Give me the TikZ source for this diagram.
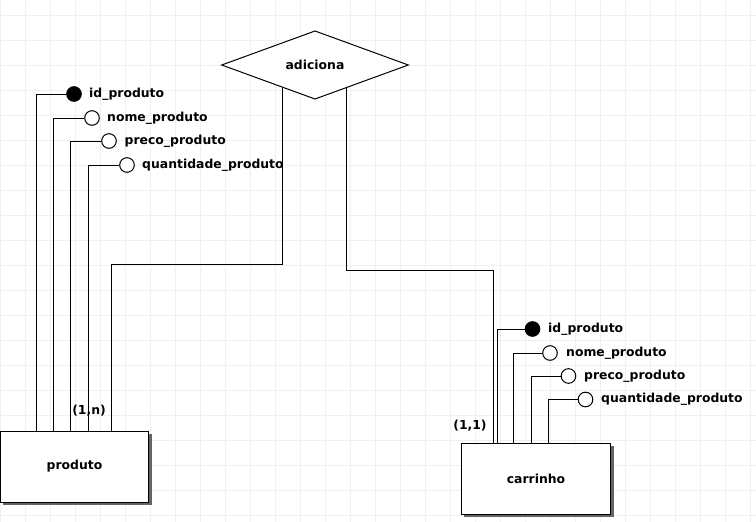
\documentclass[tikz,border=0pt]{standalone}
\usepackage{fontspec}
\setmainfont{DejaVu Sans}
\usetikzlibrary{shapes.geometric,calc}
\definecolor{gridc}{RGB}{234,242,246}
\definecolor{shadowc}{RGB}{100,100,100}
\pgfdeclarelayer{bg}
\pgfsetlayers{bg,main}
\begin{document}
\begin{tikzpicture}[x=1pt,y=-1pt,
  every node/.style={font=\fontsize{12.4}{14}\selectfont\bfseries},
  line/.style={draw=black,line width=1pt},
  entity/.style={draw=black,line width=1pt,fill=white,rectangle,inner sep=0pt},
  rel/.style={draw=black,line width=1pt,fill=white,diamond,inner sep=0pt,
    minimum width=187pt,minimum height=63pt},
  attr/.style={circle,draw=black,line width=1pt,fill=white,minimum size=14.6pt,inner sep=0pt},
  keyattr/.style={attr,fill=black},
  attrtext/.style={anchor=west,inner sep=0pt},
  card/.style={inner sep=0pt}]
\useasboundingbox (0,0) rectangle (756,522);

% relationship
\node[rel] (adiciona) at (315,65) {adiciona};

% entities
\node[entity,minimum width=148pt,minimum height=71pt] (produto) at (74.5,466.5) {produto};
\node[entity,minimum width=149pt,minimum height=71pt] (carrinho) at (536,478.5) {carrinho};

\begin{pgfonlayer}{bg}
\fill[white] (0,0) rectangle (756,522);
\foreach \gx in {0,25,...,750} \draw[gridc,line width=1pt] (\gx,0) -- (\gx,522);
\foreach \gy in {15,40,...,515} \draw[gridc,line width=1pt] (0,\gy) -- (756,\gy);
\fill[shadowc] ($(produto.north west)+(3,3)$) rectangle ($(produto.south east)+(2.5,2.5)$);
\fill[shadowc] ($(carrinho.north west)+(3,3)$) rectangle ($(carrinho.south east)+(2.5,2.5)$);
\end{pgfonlayer}

% produto attributes
\node[keyattr] (p1) at (74,94) {};
\node[attr] (p2) at (92,118) {};
\node[attr] (p3) at (109,141) {};
\node[attr] (p4) at (127,165) {};
\node[attrtext] (p1t) at (89,94) {id\_produto};
\node[attrtext] (p2t) at (107,118) {nome\_produto};
\node[attrtext] (p3t) at (124.5,141) {preco\_produto};
\node[attrtext] (p4t) at (142,165) {quantidade\_produto};
\draw[line] (p1.west) -| (produto.north -| 36,0);
\draw[line] (p2.west) -| (produto.north -| 53,0);
\draw[line] (p3.west) -| (produto.north -| 70,0);
\draw[line] (p4.west) -| (produto.north -| 88,0);

% carrinho attributes
\node[keyattr] (c1) at (532.5,329) {};
\node[attr] (c2) at (550,353) {};
\node[attr] (c3) at (568.5,376) {};
\node[attr] (c4) at (585.5,399.5) {};
\node[attrtext] (c1t) at (548,329) {id\_produto};
\node[attrtext] (c2t) at (566,353) {nome\_produto};
\node[attrtext] (c3t) at (584,376) {preco\_produto};
\node[attrtext] (c4t) at (601,399.5) {quantidade\_produto};
\draw[line] (c1.west) -| (carrinho.north -| 497,0);
\draw[line] (c2.west) -| (carrinho.north -| 513,0);
\draw[line] (c3.west) -| (carrinho.north -| 531,0);
\draw[line] (c4.west) -| (carrinho.north -| 548,0);

% relationship connectors
\coordinate (dl) at ($(adiciona.west)!0.658!(adiciona.south)$);
\coordinate (dr) at ($(adiciona.south)!0.3316!(adiciona.east)$);
\coordinate (bl) at (111,264);
\coordinate (br) at (493,270);
\draw[line] (dl) |- (bl) -- (produto.north -| bl);
\draw[line] (dr) |- (br) -- (carrinho.north -| br);

% cardinalities
\node[card] (cardn) at (89,411) {(1,n)};
\node[card] (card1) at (470,426) {(1,1)};
\end{tikzpicture}
\end{document}
